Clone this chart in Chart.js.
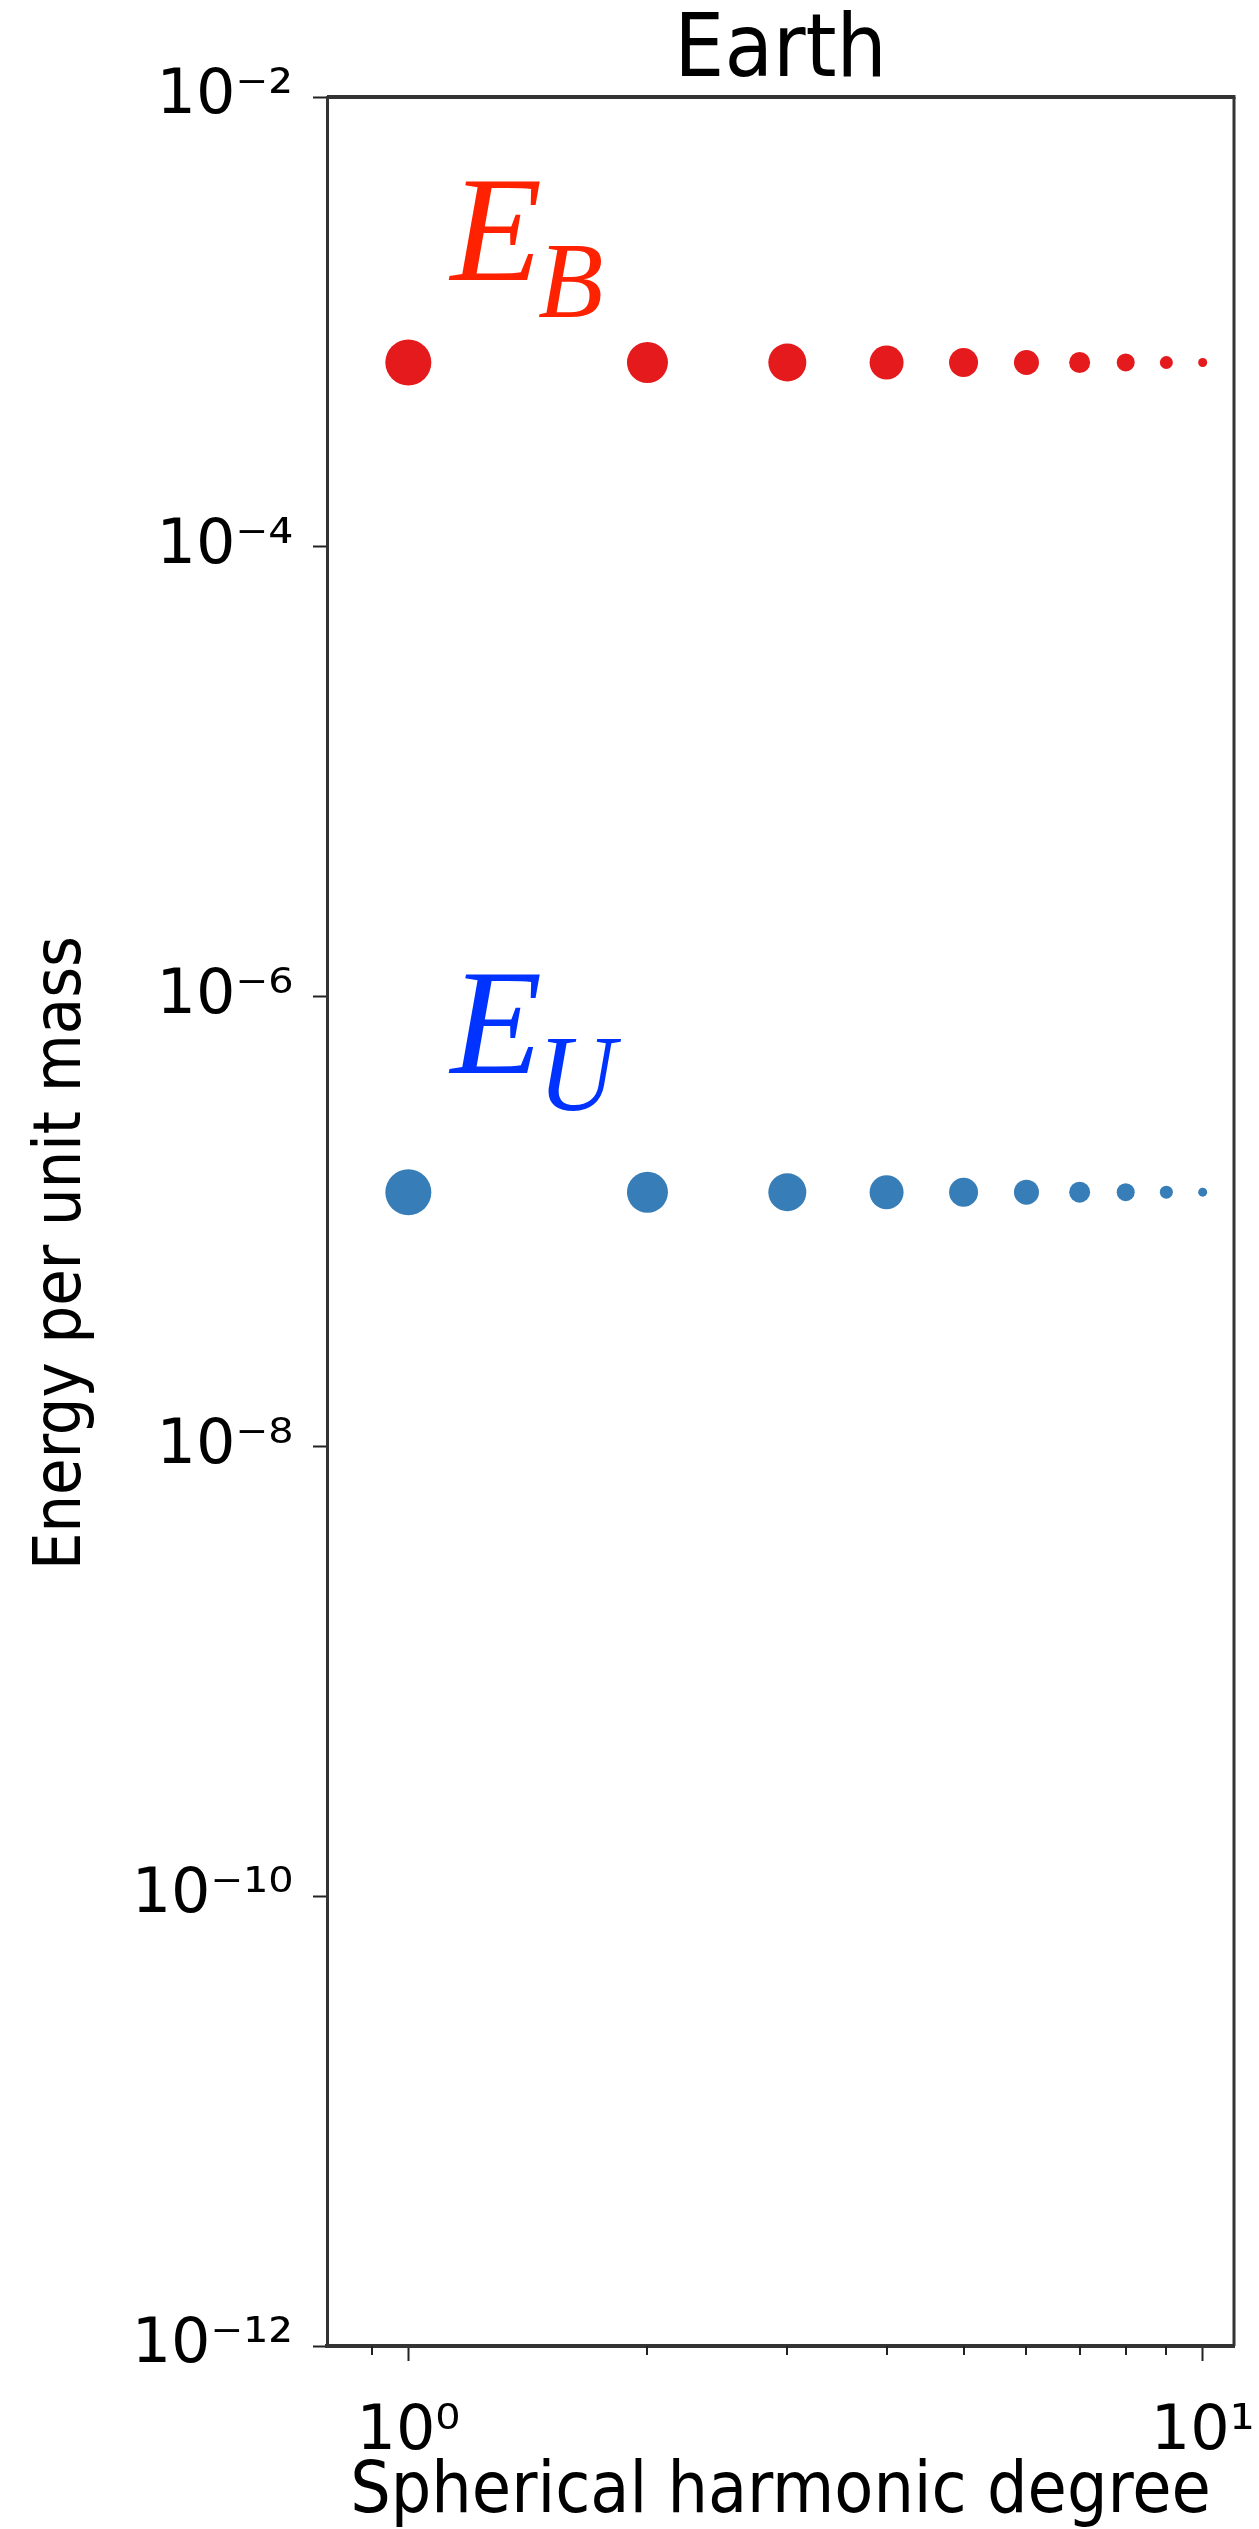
<!DOCTYPE html>
<html>
<head>
<meta charset="utf-8">
<title>Earth</title>
<script src="https://cdn.jsdelivr.net/npm/chart.js@4.4.1/dist/chart.umd.min.js"></script>
<style>
  html, body { margin: 0; padding: 0; background: #fff; }
  canvas { display: block; }
</style>
</head>
<body>
<canvas id="energyChart" width="1259" height="2529"></canvas>
<script>
// data
const degrees = [1, 2, 3, 4, 5, 6, 7, 8, 9, 10];
const magneticEnergy = [6.6e-4, 6.6e-4, 6.6e-4, 6.6e-4, 6.6e-4, 6.6e-4, 6.6e-4, 6.6e-4, 6.6e-4, 6.6e-4];
const kineticEnergy = [1.35e-7, 1.35e-7, 1.35e-7, 1.35e-7, 1.35e-7, 1.35e-7, 1.35e-7, 1.35e-7, 1.35e-7, 1.35e-7];

const yTickValues = [1e-12, 1e-10, 1e-8, 1e-6, 1e-4, 1e-2];
const yTickLabels = ['10\u207B\u00B9\u00B2', '10\u207B\u00B9\u2070', '10\u207B\u2078', '10\u207B\u2076', '10\u207B\u2074', '10\u207B\u00B2'];
const xMajorTicks = [1, 10];
const xMajorLabels = ['10\u2070', '10\u00B9'];
const xMinorTicks = [0.9, 2, 3, 4, 5, 6, 7, 8, 9];

// marker sizes shrink with degree
const dotRadius = [23, 20.5, 19, 17, 14.5, 12.5, 10.5, 9, 6.5, 4.5];

const sansFont = '"DejaVu Sans Condensed", "DejaVu Sans", sans-serif';
const tickFont = '"DejaVu Sans", sans-serif';
const serifFont = '"Liberation Serif", "DejaVu Serif", serif';

const extras = {
    id: 'extras',
    afterDraw(chart) {
        const ctx = chart.ctx;
        const area = chart.chartArea;
        const x = chart.scales.x;
        const y = chart.scales.y;
        ctx.save();

        // top and right spines
        ctx.strokeStyle = '#333';
        ctx.lineWidth = 4;
        ctx.beginPath();
        ctx.moveTo(area.left, area.top);
        ctx.lineTo(area.right + 1.5, area.top);
        ctx.stroke();
        ctx.lineWidth = 3;
        ctx.beginPath();
        ctx.moveTo(area.right, area.top);
        ctx.lineTo(area.right, area.bottom);
        ctx.stroke();

        // minor ticks on x
        ctx.strokeStyle = '#222';
        ctx.lineWidth = 2;
        xMinorTicks.forEach(function(v) {
            const px = Math.round(x.getPixelForValue(v));
            ctx.beginPath();
            ctx.moveTo(px, area.bottom);
            ctx.lineTo(px, area.bottom + 9);
            ctx.stroke();
        });

        // y axis label
        ctx.fillStyle = '#000';
        ctx.font = '66px ' + sansFont;
        ctx.textAlign = 'center';
        ctx.textBaseline = 'middle';
        ctx.translate(63, 1253);
        ctx.rotate(-Math.PI / 2);
        ctx.fillText('Energy per unit mass', 0, 0);
        ctx.restore();

        // series labels
        drawSymbol(ctx, x.getPixelForValue(1.13), y.getPixelForValue(1.54e-3), 'B', '#ff2200');
        drawSymbol(ctx, x.getPixelForValue(1.13), y.getPixelForValue(4.59e-7), 'U', '#0033ff');
    }
};

function drawSymbol(ctx, px, py, sub, color) {
    ctx.save();
    ctx.fillStyle = color;
    ctx.textAlign = 'left';
    ctx.textBaseline = 'alphabetic';
    ctx.font = 'italic 150px ' + serifFont;
    ctx.fillText('E', px, py);
    const w = ctx.measureText('E').width;
    ctx.font = 'italic 107px ' + serifFont;
    ctx.fillText(sub, px + w - 4, py + 37);
    ctx.restore();
}

const ctx = document.getElementById('energyChart').getContext('2d');
const energyChart = new Chart(ctx, {
    type: 'scatter',
    data: {
        datasets: [{
            label: 'E_B',
            data: degrees.map((d, i) => ({ x: d, y: magneticEnergy[i] })),
            backgroundColor: '#e41a1c',
            borderWidth: 0,
            pointRadius: dotRadius,
            pointHoverRadius: dotRadius
        }, {
            label: 'E_U',
            data: degrees.map((d, i) => ({ x: d, y: kineticEnergy[i] })),
            backgroundColor: '#377eb8',
            borderWidth: 0,
            pointRadius: dotRadius,
            pointHoverRadius: dotRadius
        }]
    },
    options: {
        responsive: false,
        animation: false,
        devicePixelRatio: 1,
        layout: { padding: { top: 0, right: 25, bottom: 0, left: 0 } },
        plugins: {
            legend: { display: false },
            tooltip: { enabled: false },
            title: {
                display: true,
                text: 'Earth',
                fullSize: false,
                color: '#000',
                font: { family: sansFont, size: 88, weight: 'normal', lineHeight: 1 },
                padding: { top: 9, bottom: 0 }
            }
        },
        scales: {
            x: {
                type: 'logarithmic',
                position: 'bottom',
                min: 0.79,
                max: 10.95,
                afterBuildTicks: function(scale) {
                    scale.ticks = xMajorTicks.map(v => ({ value: v, major: true }));
                },
                afterFit: function(scale) {
                    scale.height = 183;
                    scale.paddingLeft = 0;
                    scale.paddingRight = 0;
                },
                title: {
                    display: true,
                    text: 'Spherical harmonic degree',
                    color: '#000',
                    font: { family: sansFont, size: 71, lineHeight: 1 },
                    padding: { top: 0, bottom: 0 }
                },
                ticks: {
                    autoSkip: false,
                    maxRotation: 0,
                    padding: 35,
                    color: '#000',
                    font: { family: tickFont, size: 62 },
                    callback: function(value) {
                        return xMajorLabels[xMajorTicks.indexOf(value)];
                    }
                },
                grid: {
                    drawOnChartArea: false,
                    tickLength: 15,
                    tickWidth: 2,
                    tickColor: '#222'
                },
                border: { display: true, color: '#333', width: 4 }
            },
            y: {
                type: 'logarithmic',
                position: 'left',
                min: 1e-12,
                max: 1e-2,
                afterBuildTicks: function(scale) {
                    scale.ticks = yTickValues.map(v => ({ value: v, major: true }));
                },
                afterFit: function(scale) {
                    scale.width = 327;
                    scale.paddingTop = 0;
                    scale.paddingBottom = 0;
                },
                ticks: {
                    autoSkip: false,
                    padding: 20,
                    color: '#000',
                    font: { family: tickFont, size: 62 },
                    callback: function(value) {
                        return yTickLabels[yTickValues.indexOf(value)];
                    }
                },
                grid: {
                    drawOnChartArea: false,
                    tickLength: 14,
                    tickWidth: 2,
                    tickColor: '#222'
                },
                border: { display: true, color: '#333', width: 3 }
            }
        }
    },
    plugins: [extras]
});

// console.log(energyChart.chartArea);
</script>
</body>
</html>
